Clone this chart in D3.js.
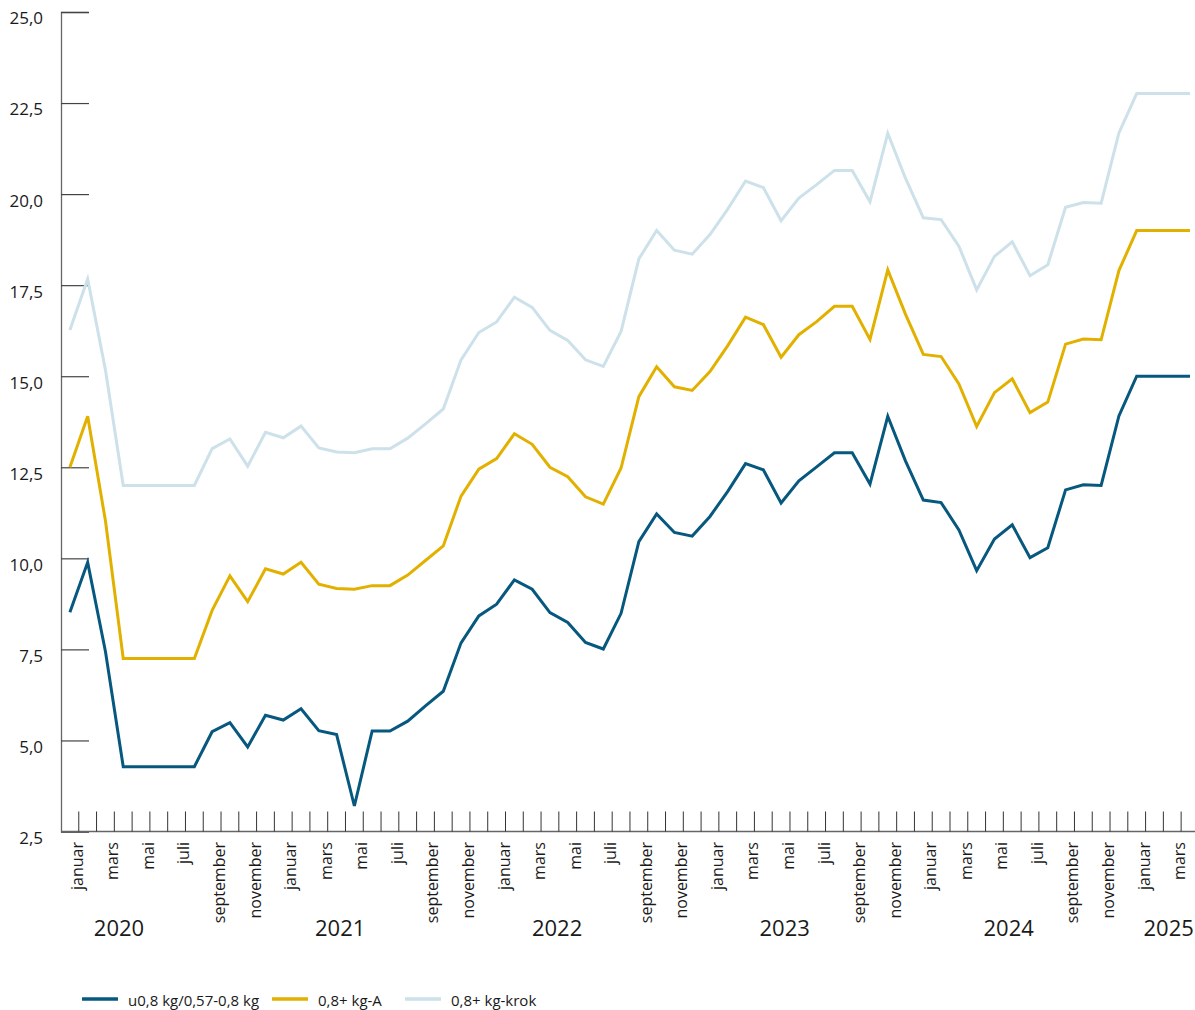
<!DOCTYPE html>
<html>
<head>
<meta charset="utf-8">
<script src="https://cdn.jsdelivr.net/npm/d3@7/dist/d3.min.js"></script>
<style>
	body { margin: 0; background: #fff; }
	text { font-family: "Open Sans", sans-serif; fill: #1a1a1a; }
</style>
</head>
<body>
<div id="chart"></div>
<script>
// monthly prices, januar 2020 - april 2025
var monthNames = ["januar", "februar", "mars", "april", "mai", "juni", "juli", "august", "september", "oktober", "november", "desember"]
var years = ["2020", "2021", "2022", "2023", "2024", "2025"]
// where each year label sits, in months from januar 2020
var yearLabelAt = [3.26, 15.7, 27.9, 40.7, 53.3, 62.3]
var yTicks = [2.5, 5, 7.5, 10, 12.5, 15, 17.5, 20, 22.5, 25]

var seriesNames = ["u0,8 kg/0,57-0,8 kg", "0,8+ kg-A", "0,8+ kg-krok"]

var small = [8.52, 9.89, 7.44, 4.28, 4.28, 4.28, 4.28, 4.28, 5.24, 5.49, 4.82, 5.69,
	5.56, 5.87, 5.27, 5.16, 3.2, 5.26, 5.26, 5.53, 5.95, 6.35, 7.68, 8.42,
	8.74, 9.41, 9.15, 8.51, 8.24, 7.69, 7.51, 8.49, 10.46, 11.22, 10.71, 10.61,
	11.15, 11.84, 12.6, 12.43, 11.52, 12.13, 12.51, 12.9, 12.9, 12.04, 13.9, 12.67,
	11.6, 11.53, 10.78, 9.66, 10.53, 10.92, 10.02, 10.29, 11.88, 12.02, 12.0, 13.91,
	15.0, 15.0, 15.0, 15.0]

var gradeA = [12.5, 13.9, 11.03, 7.25, 7.25, 7.25, 7.25, 7.25, 8.57, 9.52, 8.81, 9.71,
	9.57, 9.89, 9.29, 9.17, 9.15, 9.25, 9.25, 9.54, 9.94, 10.34, 11.71, 12.45,
	12.74, 13.42, 13.13, 12.5, 12.24, 11.69, 11.49, 12.48, 14.44, 15.26, 14.71, 14.61,
	15.13, 15.84, 16.62, 16.42, 15.52, 16.14, 16.5, 16.92, 16.92, 16.01, 17.92, 16.7,
	15.6, 15.54, 14.79, 13.62, 14.55, 14.93, 14.0, 14.29, 15.88, 16.02, 16.0, 17.9,
	19.0, 19.0, 19.0, 19.0]

var krok = [16.27, 17.67, 15.17, 12.0, 12.0, 12.0, 12.0, 12.0, 13.01, 13.28, 12.53, 13.46,
	13.31, 13.63, 13.03, 12.92, 12.9, 13.01, 13.01, 13.3, 13.69, 14.1, 15.45, 16.2,
	16.49, 17.17, 16.89, 16.26, 15.98, 15.45, 15.27, 16.23, 18.22, 19.0, 18.46, 18.35,
	18.89, 19.59, 20.36, 20.18, 19.27, 19.89, 20.26, 20.65, 20.65, 19.79, 21.67, 20.43,
	19.35, 19.3, 18.57, 17.37, 18.29, 18.69, 17.76, 18.06, 19.64, 19.77, 19.75, 21.68,
	22.76, 22.76, 22.76, 22.76]

var colors = ["#07587f", "#e2b100", "#cde1ea"]

var w = 1195
var h = 1010
var plotLeft = 61
var plotBottom = 831.5
var plotTop = 12
var monthW = 17.78

var svg = d3.select("#chart")
	.append("svg")
	.attr("width", w)
	.attr("height", h)

var months = d3.range(small.length)

var x = d3.scaleBand()
	.domain(months)
	.range([plotLeft, plotLeft + monthW * months.length])

var y = d3.scaleLinear()
	.domain([2.5, 25])
	.range([plotBottom, plotTop])

var fmt = d => d3.format(".1f")(d).replace(".", ",")

// y axis, ticks pointing into the plot
var yAxis = d3.axisLeft(y)
	.tickValues(yTicks)
	.tickSize(-28)
	.tickPadding(18)
	.tickFormat(fmt)

var gy = svg.append("g")
	.attr("transform", "translate(" + plotLeft + ",0)")
	.call(yAxis)
gy.select(".domain").attr("stroke", "#666").attr("stroke-width", 1.3)
gy.selectAll(".tick line").attr("stroke", "#444").attr("stroke-width", 1.2)
gy.selectAll(".tick text")
	.attr("dy", "0.7em")
	.style("font-size", "17px")
	.style("font-family", "'Open Sans', sans-serif")
	.attr("fill", "#1a1a1a")

// x axis baseline and month ticks
svg.append("line")
	.attr("x1", plotLeft).attr("x2", w)
	.attr("y1", plotBottom).attr("y2", plotBottom)
	.attr("stroke", "#666")
	.attr("stroke-width", 1.5)

var boundaries = months.slice(0, months.length - 1)

svg.append("g")
	.selectAll("line")
	.data(boundaries)
	.enter()
	.append("line")
	.attr("x1", d => x(d) + x.bandwidth())
	.attr("x2", d => x(d) + x.bandwidth())
	.attr("y1", plotBottom - 20)
	.attr("y2", plotBottom)
	.attr("stroke", "#333")
	.attr("stroke-width", 1)

// month labels, every other month
svg.append("g")
	.selectAll("text")
	.data(months.filter(i => i % 2 == 0))
	.enter()
	.append("text")
	.attr("transform", d => "translate(" + (x(d) + x.bandwidth() + 4) + "," + 842 + ") rotate(-90)")
	.attr("text-anchor", "end")
	.style("font-size", "16px")
	.text(d => monthNames[d % 12])

// years
svg.append("g")
	.selectAll("text")
	.data(years)
	.enter()
	.append("text")
	.attr("x", (d, i) => plotLeft + yearLabelAt[i] * x.bandwidth())
	.attr("y", 936)
	.attr("text-anchor", "middle")
	.style("font-size", "22px")
	.text(d => d)

// lines
var line = d3.line()
	.x((d, i) => x(i) + x.bandwidth() / 2)
	.y(d => y(d))

var series = [small, gradeA, krok]

svg.append("g")
	.selectAll("path")
	.data(series.slice().reverse())
	.enter()
	.append("path")
	.attr("d", line)
	.attr("fill", "none")
	.attr("stroke", (d, i) => colors[series.length - 1 - i])
	.attr("stroke-width", 3)
	.attr("stroke-linejoin", "miter")

// legend
var legendX = [82, 272, 405]

var legend = svg.append("g")
	.selectAll("g")
	.data(seriesNames)
	.enter()
	.append("g")
	.attr("transform", (d, i) => "translate(" + legendX[i] + ",999)")

legend.append("line")
	.attr("x1", 0).attr("x2", 36)
	.attr("stroke", (d, i) => colors[i])
	.attr("stroke-width", 3.5)

legend.append("text")
	.attr("x", 46)
	.attr("y", 7)
	.style("font-size", "15px")
	.text(d => d)
</script>
</body>
</html>
